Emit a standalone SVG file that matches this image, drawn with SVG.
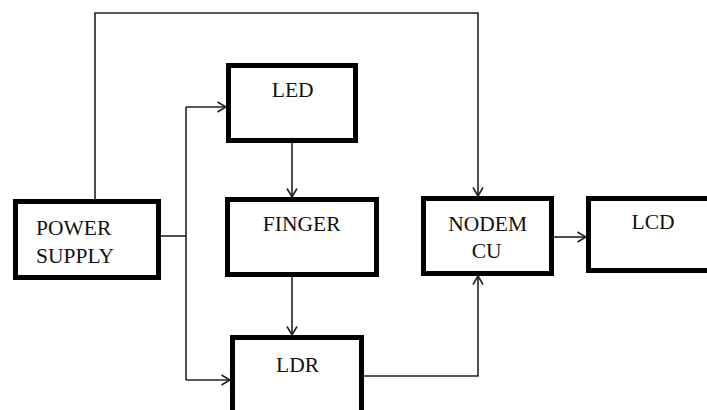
<svg xmlns="http://www.w3.org/2000/svg" width="707" height="410" viewBox="0 0 707 410">
<style>
.box{fill:#fff;stroke:#000;stroke-width:5}
.lbl{font-family:'Liberation Serif','Times New Roman',Times,'DejaVu Serif',serif;font-size:21.5px;fill:#111}
.c{text-anchor:middle}
.wire{fill:none;stroke:#222;stroke-width:1.6}
.arr{fill:none;stroke:#222;stroke-width:1.6;marker-end:url(#ah)}
</style>
<defs>
<marker id="ah" viewBox="0 0 10 12" refX="9.5" refY="6" markerWidth="10" markerHeight="12" markerUnits="userSpaceOnUse" orient="auto">
<path d="M1,1 L9.5,6 L1,11" fill="none" stroke="#222" stroke-width="1.6"/>
</marker>
</defs>
<rect width="707" height="410" fill="#fff"/>
<g id="connectors">
<path class="arr" d="M95 199 V13 H478 V196"/>
<path class="wire" d="M161 236 H186"/>
<path class="wire" d="M186 107 V380"/>
<path class="arr" d="M186 107 H226"/>
<path class="arr" d="M186 380 H230"/>
<path class="arr" d="M292 143 V197"/>
<path class="arr" d="M292 277 V335"/>
<path class="arr" d="M364 376 H478 V276"/>
<path class="arr" d="M554 237 H586"/>
</g>
<g id="power-supply">
<rect class="box" x="15.5" y="201.5" width="143" height="76"/>
<text class="lbl" x="36" y="235" font-family="Liberation Serif, serif">POWER</text>
<text class="lbl" x="36" y="263" font-family="Liberation Serif, serif">SUPPLY</text>
</g>
<g id="led">
<rect class="box" x="228.5" y="65.5" width="127" height="75"/>
<text class="lbl c" x="292.7" y="97">LED</text>
</g>
<g id="finger">
<rect class="box" x="227.5" y="199.5" width="149" height="75"/>
<text class="lbl c" x="301.7" y="231">FINGER</text>
</g>
<g id="ldr">
<rect class="box" x="232.5" y="337.5" width="129" height="80"/>
<text class="lbl c" x="297.5" y="371.5">LDR</text>
</g>
<g id="nodemcu">
<rect class="box" x="423.5" y="198.5" width="128" height="75"/>
<text class="lbl c" x="487.7" y="231">NODEM</text>
<text class="lbl c" x="486.7" y="258">CU</text>
</g>
<g id="lcd">
<rect class="box" x="588.5" y="198.5" width="130" height="72"/>
<text class="lbl c" x="653" y="229">LCD</text>
</g>
</svg>
